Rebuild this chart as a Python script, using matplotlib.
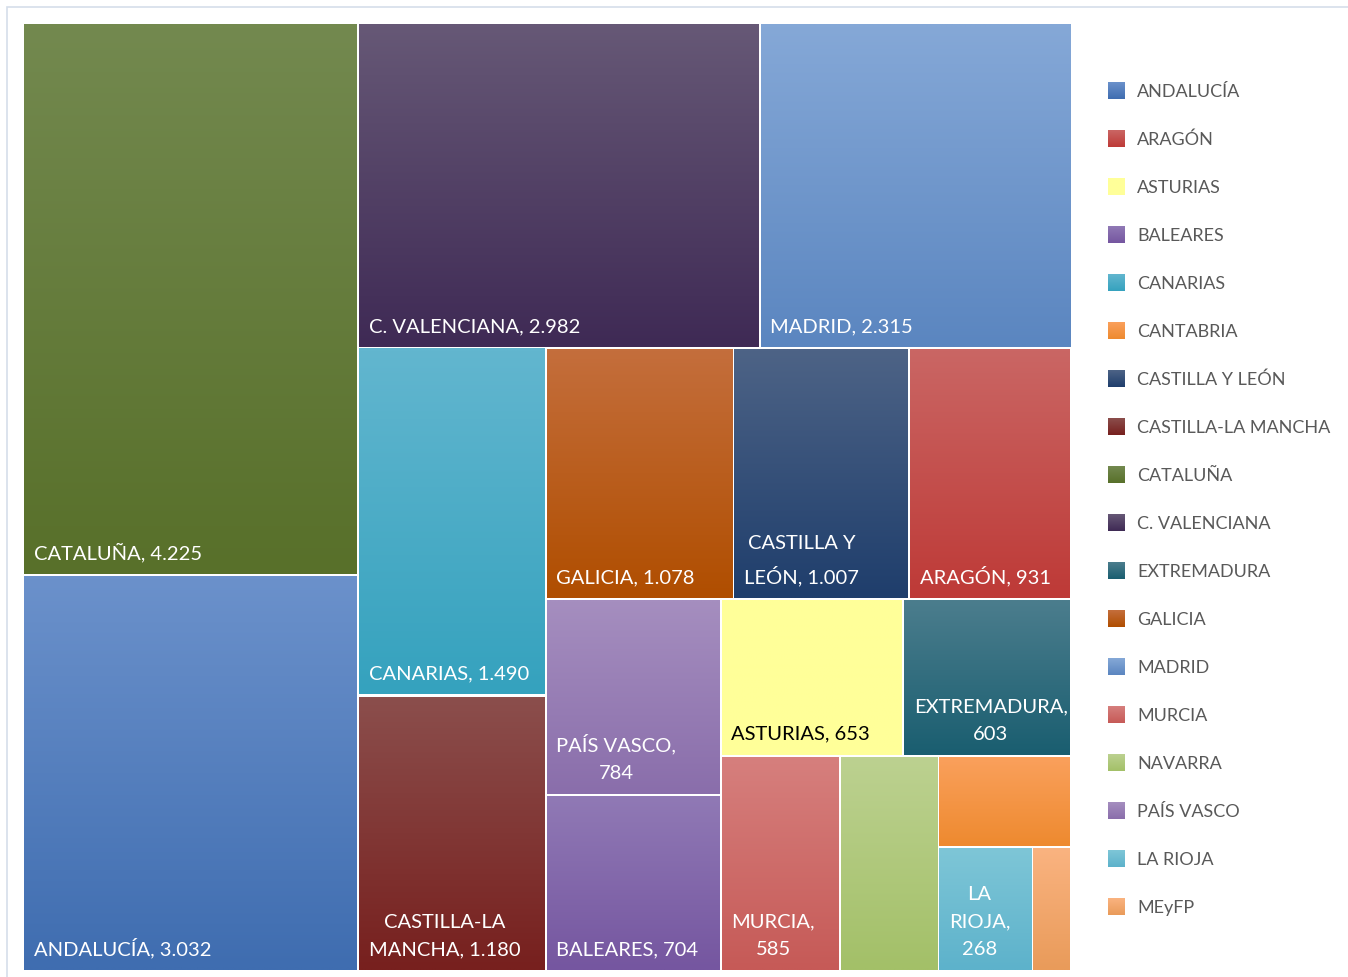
import numpy as np
import matplotlib.pyplot as plt
from matplotlib.colors import to_rgb
from matplotlib.patches import Rectangle

plt.rcParams['font.family'] = ['Lato', 'DejaVu Sans']

# values per region, largest first (treemap order)
regions = ["CATALUÑA", "ANDALUCÍA", "C. VALENCIANA", "MADRID", "CANARIAS",
           "CASTILLA-LA MANCHA", "GALICIA", "CASTILLA Y LEÓN", "ARAGÓN",
           "PAÍS VASCO", "BALEARES", "ASTURIAS", "EXTREMADURA", "MURCIA",
           "NAVARRA", "CANTABRIA", "LA RIOJA", "MEyFP"]
values = [4225, 3032, 2982, 2315, 1490, 1180, 1078, 1007, 931,
          784, 704, 653, 603, 585, 484, 277, 268, 110]

legend_order = ["ANDALUCÍA", "ARAGÓN", "ASTURIAS", "BALEARES", "CANARIAS",
                "CANTABRIA", "CASTILLA Y LEÓN", "CASTILLA-LA MANCHA", "CATALUÑA",
                "C. VALENCIANA", "EXTREMADURA", "GALICIA", "MADRID", "MURCIA",
                "NAVARRA", "PAÍS VASCO", "LA RIOJA", "MEyFP"]

# gradient fill: colour at top and at bottom of each box
top_col = {
    "ANDALUCÍA": "#6B91CB", "ARAGÓN": "#CA6664", "ASTURIAS": "#FFFF99",
    "BALEARES": "#9079B5", "CANARIAS": "#62B6CF", "CANTABRIA": "#FAA05C",
    "CASTILLA Y LEÓN": "#4D6386", "CASTILLA-LA MANCHA": "#8B4E4C",
    "CATALUÑA": "#73894F", "C. VALENCIANA": "#665876", "EXTREMADURA": "#4B7D8D",
    "GALICIA": "#C46E3C", "MADRID": "#85A8D7", "MURCIA": "#D67F7D",
    "NAVARRA": "#BCD190", "PAÍS VASCO": "#A58EBF", "LA RIOJA": "#7EC6D7",
    "MEyFP": "#FAB380",
}
bottom_col = {
    "ANDALUCÍA": "#3F6DB0", "ARAGÓN": "#BE3A37", "ASTURIAS": "#FFFF99",
    "BALEARES": "#7556A0", "CANARIAS": "#35A2BE", "CANTABRIA": "#EE8A2F",
    "CASTILLA Y LEÓN": "#1F3E6C", "CASTILLA-LA MANCHA": "#77201E",
    "CATALUÑA": "#58702A", "C. VALENCIANA": "#3F2A55", "EXTREMADURA": "#1A5E70",
    "GALICIA": "#B04E00", "MADRID": "#5B86C0", "MURCIA": "#C65A57",
    "NAVARRA": "#A3C068", "PAÍS VASCO": "#8A6EAB", "LA RIOJA": "#5DB2CB",
    "MEyFP": "#E99B5A",
}

# how the data labels wrap, and which boxes are too small for one
label_fmt = {
    "CASTILLA-LA MANCHA": "CASTILLA-LA\nMANCHA, {}",
    "CASTILLA Y LEÓN": "CASTILLA Y\nLEÓN, {}",
    "PAÍS VASCO": "PAÍS VASCO,\n{}",
    "EXTREMADURA": "EXTREMADURA,\n{}",
    "MURCIA": "MURCIA,\n{}",
    "LA RIOJA": "LA\nRIOJA,\n{}",
}
no_label = ["NAVARRA", "CANTABRIA", "MEyFP"]


def fmt_es(v):
    return f"{v:,}".replace(",", ".")


def squarify(vals, x, y, w, h, rho=0.82):
    # strips along the short side, greedy on the worst box shape;
    # rho is the preferred width/height of a box
    out = []
    i = 0
    n = len(vals)

    def worst(i, j, w, h, rest):
        s = sum(vals[i:j])
        column = h <= w
        t = s / rest * (w if column else h)
        score = 0
        for v in vals[i:j]:
            l = v / s * (h if column else w)
            r = t / l if column else l / t
            score = max(score, r / rho, rho / r)
        return score

    while i < n:
        rest = sum(vals[i:])
        j = i + 1
        score = worst(i, j, w, h, rest)
        while j < n:
            nxt = worst(i, j + 1, w, h, rest)
            if nxt > score:
                break
            score = nxt
            j += 1
        s = sum(vals[i:j])
        if h <= w:
            t = s / rest * w
            yy = y
            for v in vals[i:j]:
                l = v / s * h
                out.append((x, yy, t, l))
                yy += l
            x += t
            w -= t
        else:
            t = s / rest * h
            xx = x
            for v in vals[i:j]:
                l = v / s * w
                out.append((xx, y, l, t))
                xx += l
            y += t
            h -= t
        i = j
    return out


def grad_box(ax, x0, y0, w, h, c_top, c_bot):
    steps = np.linspace(0, 1, 64)[:, None, None]
    img = (1 - steps) * np.array(to_rgb(c_top)) + steps * np.array(to_rgb(c_bot))
    ax.imshow(img, extent=(x0, x0 + w, y0 + h, y0), origin='upper',
              aspect='auto', interpolation='bilinear', zorder=2)


fig = plt.figure(figsize=(13.48, 9.77), dpi=100)
ax = fig.add_axes([0, 0, 1, 1])

# chart frame (cut off at right and bottom)
ax.add_patch(Rectangle((7, 7), 1400, 1000, facecolor='white',
                       edgecolor='#D5DEEA', lw=1.2, zorder=0))

boxes = squarify(values, 23, 23, 1048, 948)
gap = 1.2
for name, v, (bx, by, bw, bh) in zip(regions, values, boxes):
    grad_box(ax, bx + gap, by + gap, bw - 2 * gap, bh - 2 * gap,
             top_col[name], bottom_col[name])
    if name in no_label:
        continue
    txt = label_fmt.get(name, name + ", {}").format(fmt_es(v))
    ax.text(bx + 11, by + bh - 13, txt, ha='left', va='bottom',
            multialignment='center', fontsize=14.5, linespacing=1.75,
            color='black' if name == "ASTURIAS" else 'white', zorder=3)

# legend
for k, name in enumerate(legend_order):
    ly = 91 + 48 * k
    grad_box(ax, 1108, ly - 8.5, 17, 17, top_col[name], bottom_col[name])
    ax.text(1137, ly + 1, name, ha='left', va='center', fontsize=13,
            color='#595959', zorder=3)

ax.set_xlim(0, 1348)
ax.set_ylim(977, 0)
ax.axis('off')
fig.savefig("out.png", dpi=100, facecolor='white')
